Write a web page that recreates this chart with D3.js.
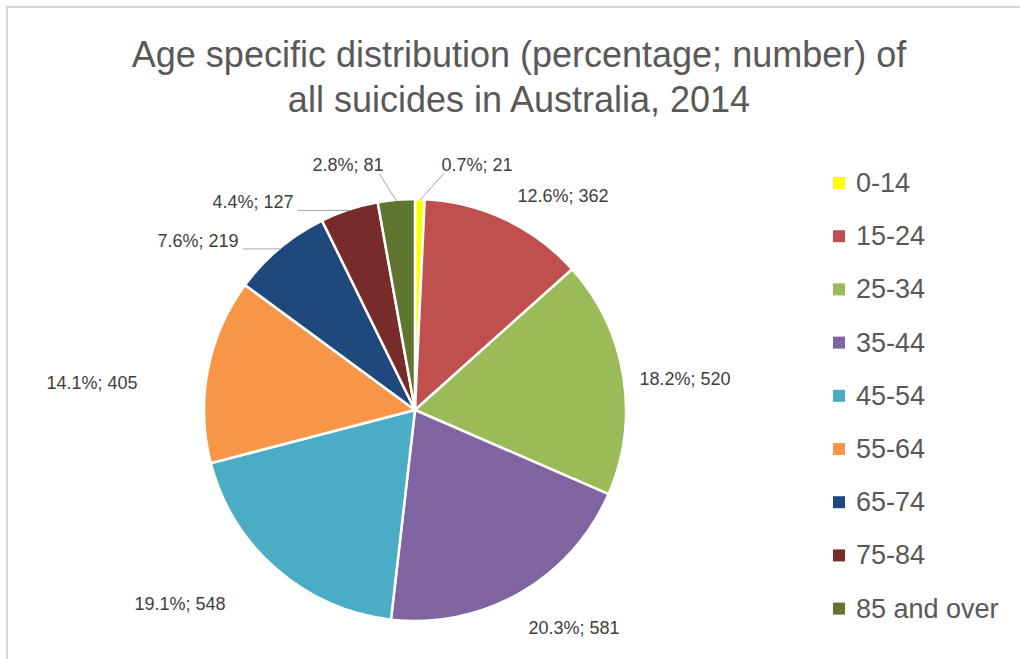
<!DOCTYPE html>
<html>
<head>
<meta charset="utf-8">
<script src="https://cdn.jsdelivr.net/npm/d3@7"></script>
<style>
  body { margin: 0; background: #fff; }
  svg text { font-family: "Liberation Sans", Arial, sans-serif; }
</style>
</head>
<body>
<svg id="pie"></svg>
<script>
// data
var ageGroups = ["0-14", "15-24", "25-34", "35-44", "45-54", "55-64", "65-74", "75-84", "85 and over"]
var deaths = [21, 362, 520, 581, 548, 405, 219, 127, 81]
var colors = ["#ffff00", "#c0504d", "#9bbb59", "#8064a2", "#4bacc6", "#f79646", "#1f497d", "#772c2a", "#5f7530"]
var titleLines = ["Age specific distribution (percentage; number) of", "all suicides in Australia, 2014"]

// where Excel put each label, relative to pie centre, and which ones got a leader line
var labelOffset = [[62, -245], [148, -214], [270, -31], [159, 218], [-235, 194], [-323, -27], [-217, -169], [-162, -208], [-67, -245]]
var leaderType = ["v", null, null, null, null, null, "h", "h", "v"]

var dimensions = {
    width: 1020,
    height: 659,
    cx: 415,
    cy: 410,
    radius: 211
}

var svg = d3.select("#pie")
            .attr("width", dimensions.width)
            .attr("height", dimensions.height)

// faint frame
svg.append("rect")
   .attr("x", 7).attr("y", 7)
   .attr("width", dimensions.width + 20).attr("height", dimensions.height + 20)
   .attr("fill", "#fff")
   .attr("stroke", "#d4d4d4")
   .attr("stroke-width", 2)

svg.selectAll(".title")
   .data(titleLines)
   .enter()
   .append("text")
   .attr("class", "title")
   .attr("x", 519)
   .attr("y", (d, i) => 67 + i * 45)
   .attr("text-anchor", "middle")
   .style("font-size", "36px")
   .style("fill", "#595959")
   .text(d => d)

var total = d3.sum(deaths)
var pct = d3.format(".1%")

var pieGen = d3.pie().sort(null).value(d => d)
var arcs = pieGen(deaths)
var arcGen = d3.arc().innerRadius(0).outerRadius(dimensions.radius)

var g = svg.append("g")
           .attr("transform", `translate(${dimensions.cx},${dimensions.cy})`)

g.selectAll("path")
 .data(arcs)
 .enter()
 .append("path")
 .attr("d", arcGen)
 .attr("fill", (d, i) => colors[i])
 .attr("stroke", "#fff")
 .attr("stroke-width", 2.5)

// labels
var labels = g.selectAll(".lab")
              .data(arcs)
              .enter()
              .append("text")
              .attr("class", "lab")
              .attr("x", (d, i) => labelOffset[i][0])
              .attr("y", (d, i) => labelOffset[i][1])
              .attr("text-anchor", "middle")
              .attr("dominant-baseline", "central")
              .style("font-size", "18px")
              .style("fill", "#404040")
              .text((d, i) => pct(deaths[i] / total) + "; " + deaths[i])

// leader lines from the middle of the arc to the label
labels.each(function(d, i) {
    if (!leaderType[i]) return
    var box = this.getBBox()
    var mid = (d.startAngle + d.endAngle) / 2
    var r = dimensions.radius - 1
    var ax = Math.sin(mid) * r
    var ay = -Math.cos(mid) * r
    var ex, ey
    if (leaderType[i] == "h") {
        ex = box.x + box.width + 4
        ey = ay
    } else {
        ex = ax > box.x + box.width / 2 ? box.x + box.width - 4 : box.x + 2
        ey = box.y + box.height - 1
    }
    g.append("line")
     .attr("x1", ax).attr("y1", ay)
     .attr("x2", ex).attr("y2", ey)
     .attr("stroke", "#a6a6a6")
     .attr("stroke-width", 1)
})

// legend
var legend = svg.selectAll(".leg")
                .data(ageGroups)
                .enter()
                .append("g")
                .attr("class", "leg")
                .attr("transform", (d, i) => `translate(833,${183 + i * 53.2})`)

legend.append("rect")
      .attr("x", 0).attr("y", -6)
      .attr("width", 12).attr("height", 12)
      .attr("fill", (d, i) => colors[i])

legend.append("text")
      .attr("x", 23)
      .attr("y", 0)
      .attr("dominant-baseline", "central")
      .style("font-size", "27px")
      .style("fill", "#595959")
      .text(d => d)
</script>
</body>
</html>
